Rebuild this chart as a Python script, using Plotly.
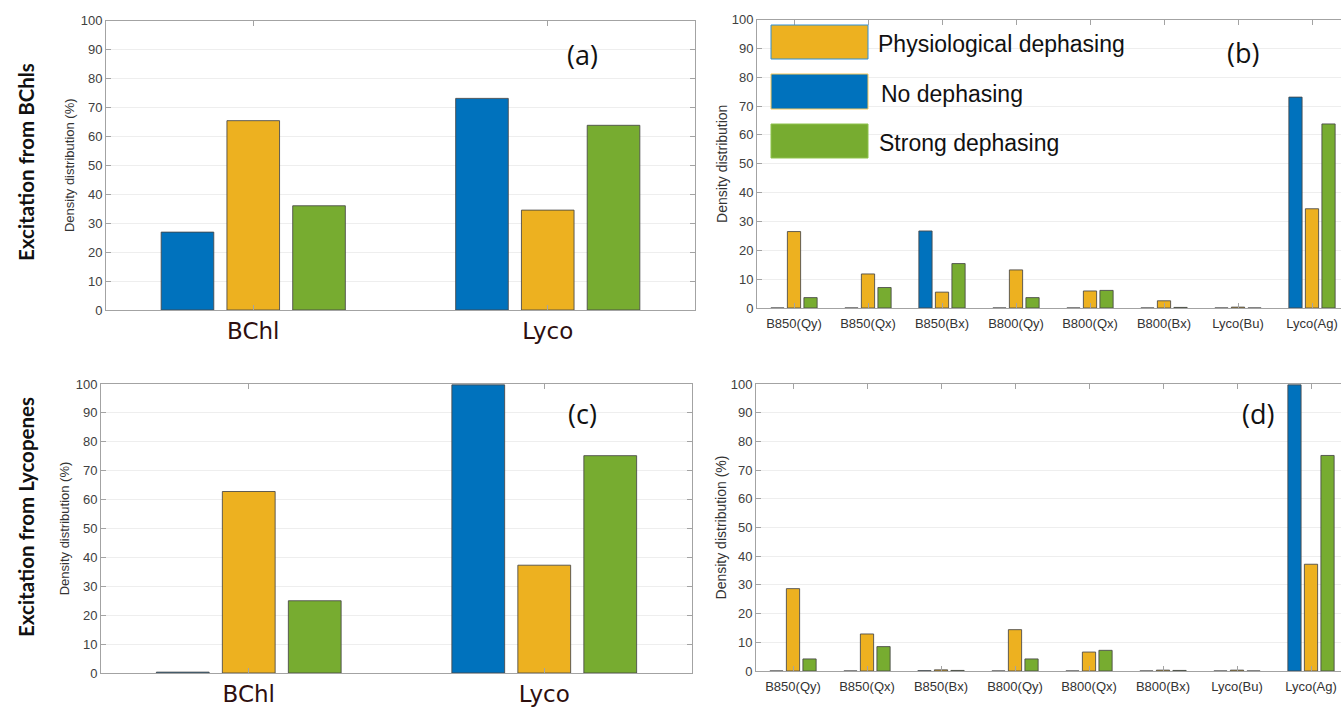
import plotly.graph_objects as go

W, H = 1341, 709
OFF = 0  # page margin removed below, so paper pixels == screen pixels

# ---------------- data ----------------
pigments = ["BChl", "Lyco"]
states = ["B850(Qy)", "B850(Qx)", "B850(Bx)", "B800(Qy)", "B800(Qx)",
          "B800(Bx)", "Lyco(Bu)", "Lyco(Ag)"]
series_names = ["No dephasing", "Physiological dephasing", "Strong dephasing"]
series_colors = ["#0072BD", "#EDB120", "#77AC30"]

# (a) excitation from BChls, per pigment
a_none = [26.9, 73.1]
a_phys = [65.4, 34.5]
a_strong = [36.0, 63.8]

# (b) excitation from BChls, per state
b_none = [0.0, 0.0, 26.7, 0.0, 0.0, 0.0, 0.0, 73.1]
b_phys = [26.5, 11.8, 5.5, 13.2, 5.9, 2.5, 0.3, 34.4]
b_strong = [3.6, 7.1, 15.4, 3.6, 6.1, 0.2, 0.0, 63.8]

# (c) excitation from Lycopenes, per pigment
c_none = [0.3, 99.7]
c_phys = [62.8, 37.3]
c_strong = [25.0, 75.2]

# (d) excitation from Lycopenes, per state
d_none = [0.0, 0.0, 0.1, 0.0, 0.0, 0.0, 0.0, 99.7]
d_phys = [28.7, 12.9, 0.4, 14.4, 6.6, 0.3, 0.3, 37.2]
d_strong = [4.2, 8.5, 0.2, 4.2, 7.2, 0.2, 0.0, 75.1]

panel_labels = ["(a)", "(b)", "(c)", "(d)"]
row_labels = ["Excitation from BChls", "Excitation from Lycopenes"]
ytitle_pct = "Density distribution (%)"
ytitle_plain = "Density distribution"

# ---------------- layout helpers ----------------
def px(a):
    return (a - OFF) / W

def py(a):
    return 1 - (a - OFF) / H

def dx(a, b):
    return [px(a), min(px(b), 1.0)]

def dy(top, bottom):
    return [py(bottom), py(top)]

AX_COLOR = "#a3a3a3"
TICK_FONT = dict(family="Liberation Sans, Arial, sans-serif", size=13, color="#404040")
CAT_FONT_BIG = dict(family="DejaVu Sans, Verdana, sans-serif", size=23, color="#2e0f0f")
SMALL_FONT = dict(family="Liberation Sans, Arial, sans-serif", size=13, color="#333333")
EDGE = "rgba(70,70,70,0.85)"

fig = go.Figure()

panels = [
    (pigments, [a_none, a_phys, a_strong], "x", "y"),
    (states, [b_none, b_phys, b_strong], "x2", "y2"),
    (pigments, [c_none, c_phys, c_strong], "x3", "y3"),
    (states, [d_none, d_phys, d_strong], "x4", "y4"),
]

for cats, vals, xa, ya in panels:
    for name, color, v in zip(series_names, series_colors, vals):
        fig.add_trace(go.Bar(
            x=cats, y=v, name=name, xaxis=xa, yaxis=ya,
            marker=dict(color=color, line=dict(color=EDGE, width=1)),
            offsetgroup=name, showlegend=False,
            hovertemplate="%{x}: %{y}<extra>" + name + "</extra>",
        ))

def xax(domain, anchor, font, standoff, rng):
    return dict(domain=domain, anchor=anchor, type="category", range=rng,
                showline=True, linecolor=AX_COLOR, linewidth=1, mirror="ticks",
                ticks="inside", ticklen=5, tickcolor=AX_COLOR,
                showgrid=False, zeroline=False, tickfont=font,
                ticklabelstandoff=standoff, automargin=False, fixedrange=True)

def yax(domain, anchor, title, tsize, standoff, mirror):
    return dict(domain=domain, anchor=anchor, range=[0, 100], dtick=10,
                showline=True, linecolor=AX_COLOR, linewidth=1, mirror=mirror,
                ticks="inside", ticklen=5, tickcolor=AX_COLOR,
                showgrid=True, gridcolor="#eeeeee", gridwidth=1, zeroline=False,
                tickfont=TICK_FONT, automargin=False,
                title=dict(text=title, standoff=standoff,
                           font=dict(family="Liberation Sans, Arial, sans-serif",
                                     size=tsize, color="#333333")),
                fixedrange=True)

# panels (b) and (d) run past the right edge of the picture (cropped there)
STEP = 74.0
b_left, d_left = 757, 756
b_rng = [-0.5, -0.5 + (W - b_left) / STEP]
d_rng = [-0.5, -0.5 + (W - d_left) / STEP]

fig.update_layout(
    template="none",
    width=W, height=H,
    margin=dict(l=0, r=0, t=0, b=0, pad=0),
    paper_bgcolor="white", plot_bgcolor="white",
    barmode="group", bargap=0.33, bargroupgap=0.2,
    xaxis=xax(dx(106, 695), "y", CAT_FONT_BIG, 0, [-0.5, 1.5]),
    yaxis=yax(dy(20.5, 310), "x", ytitle_pct, 13, 3, "ticks"),
    xaxis2=xax(dx(b_left, W), "y2", SMALL_FONT, 3, b_rng),
    yaxis2=yax(dy(19.5, 308), "x2", ytitle_plain, 14, 0, False),
    xaxis3=xax(dx(101, 692), "y3", CAT_FONT_BIG, 0, [-0.5, 1.5]),
    yaxis3=yax(dy(384, 673), "x3", ytitle_pct, 13, 3, "ticks"),
    xaxis4=xax(dx(d_left, W), "y4", SMALL_FONT, 3, d_rng),
    yaxis4=yax(dy(384, 671), "x4", ytitle_pct, 14, 0, False),
)

# panel labels
label_pos = [(582, 55), (1243, 52), (582, 413), (1258, 413)]
for txt, (lx, ly) in zip(panel_labels, label_pos):
    fig.add_annotation(text=txt, x=px(lx), y=py(ly), xref="paper", yref="paper",
                       xanchor="center", yanchor="middle", showarrow=False,
                       font=dict(family="Open Sans, DejaVu Sans, sans-serif", size=27,
                                 color="#111111"))

# row labels
for txt, ly in zip(row_labels, [162, 517]):
    fig.add_annotation(text="<b>" + txt + "</b>", x=px(26), y=py(ly),
                       xref="paper", yref="paper", textangle=-90,
                       xanchor="center", yanchor="middle", showarrow=False,
                       font=dict(family="Lato, Open Sans, sans-serif", size=20.5,
                                 color="#111111"))

# legend (drawn inside panel b)
legend_order = [1, 0, 2]
legend_rows = [(25, 59), (74, 109), (124, 158)]
legend_text_x = [876, 879, 877]
legend_edge = ["#f5c75a", "#2f8fd6", "#8fc24c"]
for idx, (top, bot), tx in zip(legend_order, legend_rows, legend_text_x):
    fig.add_shape(type="rect", xref="paper", yref="paper",
                  x0=px(771), x1=px(868), y0=py(bot), y1=py(top),
                  fillcolor=series_colors[idx],
                  line=dict(color=legend_edge[idx], width=1))
    fig.add_annotation(text=series_names[idx], x=px(tx), y=py((top + bot) / 2 + 2),
                       xref="paper", yref="paper", xanchor="left", yanchor="middle",
                       showarrow=False,
                       font=dict(family="Liberation Sans, Arial, sans-serif", size=23,
                                 color="#111111"))

fig.write_html(
    "out.html",
    config={"displayModeBar": False},
    post_script="document.body.style.margin='0px';document.body.style.overflow='hidden';",
)
